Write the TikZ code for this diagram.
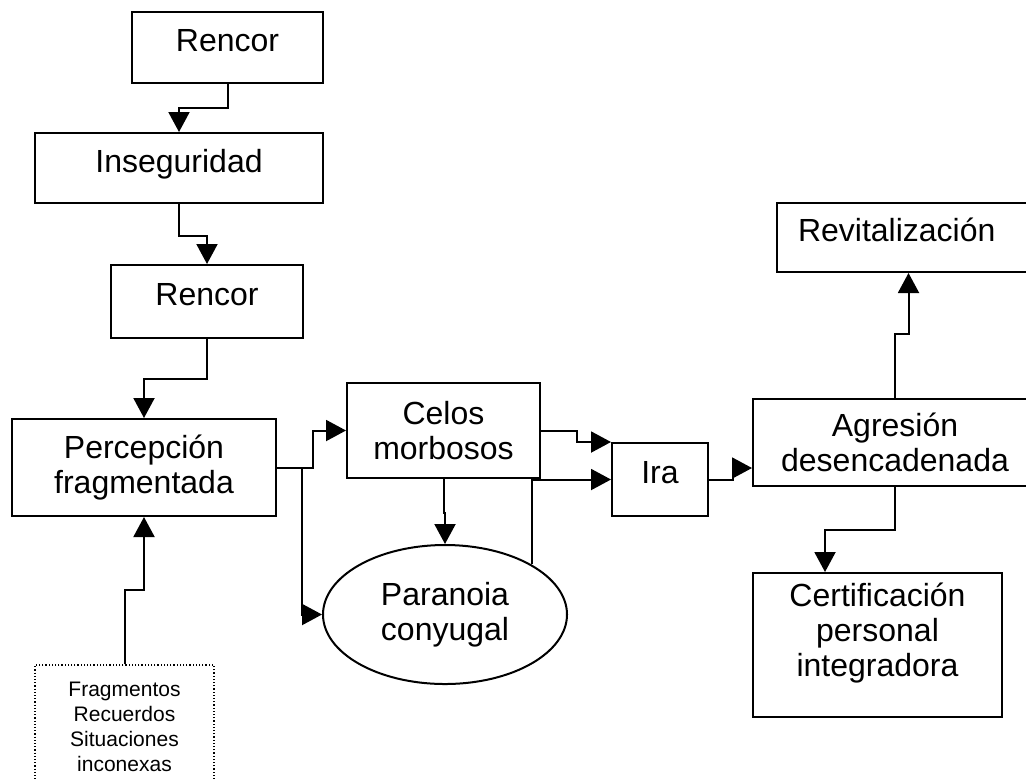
\documentclass[tikz,border=0pt]{standalone}
\usepackage{fontspec}
\setmainfont{Liberation Sans}
\usepackage{tikz}
\usetikzlibrary{arrows.meta, positioning, calc, shapes.geometric}

\begin{document}
\begin{tikzpicture}[
    x=0.5pt, y=-0.5pt,
    box/.style={draw, line width=1pt, inner sep=2pt, align=center,
        font=\fontsize{16}{17.5}\selectfont},
    oneline/.style={text height=11.5pt, text depth=7.5pt},
    note/.style={draw, densely dotted, line width=0.6pt, align=center,
        font=\fontsize{10.5}{12.5}\selectfont},
    arr/.style={line width=1pt, -{Triangle[length=10pt, width=10.5pt]}}
    ]
    \clip (0,0) rectangle (1026,778);

    \node[box, oneline, minimum width=95.5pt, minimum height=35.5pt] (rencorA) at (227.5,47.5) {Rencor};
    \node[box, oneline, minimum width=144pt, minimum height=35pt] (inseg) at (179,168) {Inseguridad};
    \node[box, oneline, minimum width=96pt, minimum height=36.5pt] (rencorB) at (207,301.5) {Rencor};
    \node[box, minimum width=132pt, minimum height=48.5pt] (percep) at (144,467.5) {Percepción\\fragmentada};
    \node[note, minimum width=89.5pt, minimum height=62pt] (frag) at (124.5,727) {Fragmentos\\Recuerdos\\Situaciones\\inconexas};
    \node[box, minimum width=96.5pt, minimum height=47.5pt] (celos) at (443.5,430.5) {Celos\\morbosos};
    \node[box, ellipse, inner sep=0pt, minimum width=122pt, minimum height=69.5pt] (paran) at (445,614.5) {Paranoia\\conyugal};
    \node[box, oneline, minimum width=48pt, minimum height=36.5pt] (ira) at (660,479.5) {Ira};
    \node[box, minimum width=142pt, minimum height=43.5pt] (agres) at (895,442.5) {Agresión\\desencadenada};
    \node[box, oneline, align=left, text width=110.5pt, inner xsep=10.5pt, minimum height=34.5pt] (revit) at (908.5,237.5) {Revitalización};
    \node[box, minimum width=124.5pt, minimum height=72pt,
        label={[name=certiftxt, align=center, font=\fontsize{16}{17.5}\selectfont, yshift=5.75pt]center:Certificación\\personal\\integradora}] (certif) at (877.5,645) {};

    \draw[arr] (rencorA.south) -- ++(0,24) -| (inseg.north);
    \draw[arr] (inseg.south) -- ++(0,32) -| (rencorB.north);
    \draw[arr] (rencorB.south) -- ++(0,40) -| (percep.north);
    \draw[arr] (frag.north) -- ++(0,-74) -| (percep.south);
    \draw[arr] (percep.east) -- ++(36,0) |- (celos.west);
    \draw[arr] ($(percep.east)+(25,0)$) |- (paran.west);
    \draw[arr] (celos.south) -- ++(0,34) -| (paran.north);
    \draw[arr] (celos.east) -- ++(36,0) |- (ira.north west);
    \draw[arr] (paran.30) |- (ira.west);
    \draw[arr] (ira.east) -- ++(24,0) |- ($(agres.west)+(0,25.5)$);
    \draw[arr] (agres.north) -- ++(0,-64) -| (revit.south);
    \draw[arr] (agres.south) -- ++(0,43) -| ($(certif.north west)+(73,0)$);
\end{tikzpicture}
\end{document}
